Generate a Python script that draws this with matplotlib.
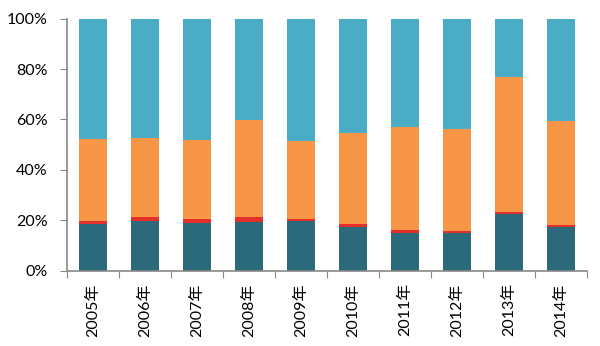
import matplotlib
matplotlib.use('Agg')
import matplotlib.pyplot as plt
import numpy as np

plt.rcParams['font.family'] = ['Lato', 'Noto Sans CJK SC', 'DejaVu Sans']

# Category labels
years = ['2005年', '2006年', '2007年', '2008年', '2009年',
         '2010年', '2011年', '2012年', '2013年', '2014年']

# Segment shares (%), bottom to top
seg_teal = [18.4, 19.6, 18.8, 19.2, 19.7, 17.2, 15.1, 15.1, 22.4, 17.2]
seg_red = [1.2, 1.7, 1.7, 2.0, 0.7, 1.3, 1.1, 0.7, 0.8, 0.9]
seg_orange = [32.5, 31.5, 31.2, 38.6, 30.9, 36.1, 40.8, 40.4, 53.5, 41.3]
seg_blue = [100 - a - b - c for a, b, c in zip(seg_teal, seg_red, seg_orange)]

colors = ['#2A6A7A', '#E3302B', '#F79646', '#4BACC6']

fig = plt.figure(figsize=(6.0, 3.46), dpi=100)
ax = fig.add_axes([0.1117, 0.2177, 0.8666, 0.7283])

x = np.arange(len(years))
bottom = np.zeros(len(years))
for vals, col in zip([seg_teal, seg_red, seg_orange, seg_blue], colors):
    ax.bar(x, vals, width=0.55, bottom=bottom, color=col, edgecolor='none')
    bottom += np.array(vals)

ax.set_xlim(-0.5, len(years) - 0.5)
ax.set_ylim(0, 100)

# y axis
ax.set_yticks([0, 20, 40, 60, 80, 100])
ax.set_yticklabels(['0%', '20%', '40%', '60%', '80%', '100%'], fontsize=11.5)
ax.tick_params(axis='y', length=5, color='#888888', pad=9)

# x axis: ticks at category boundaries, labels centred
ax.set_xticks(np.arange(-0.5, len(years), 1.0))
ax.set_xticklabels([])
ax.tick_params(axis='x', which='major', length=5, color='#888888')
ax.set_xticks(x, minor=True)
ax.set_xticklabels(years, minor=True, rotation=90, fontsize=11.5)
ax.tick_params(axis='x', which='minor', length=0, pad=9)

for side in ['top', 'right']:
    ax.spines[side].set_visible(False)
for side in ['left', 'bottom']:
    ax.spines[side].set_color('#888888')
    ax.spines[side].set_linewidth(1.2)

fig.savefig('out.png', dpi=100)
